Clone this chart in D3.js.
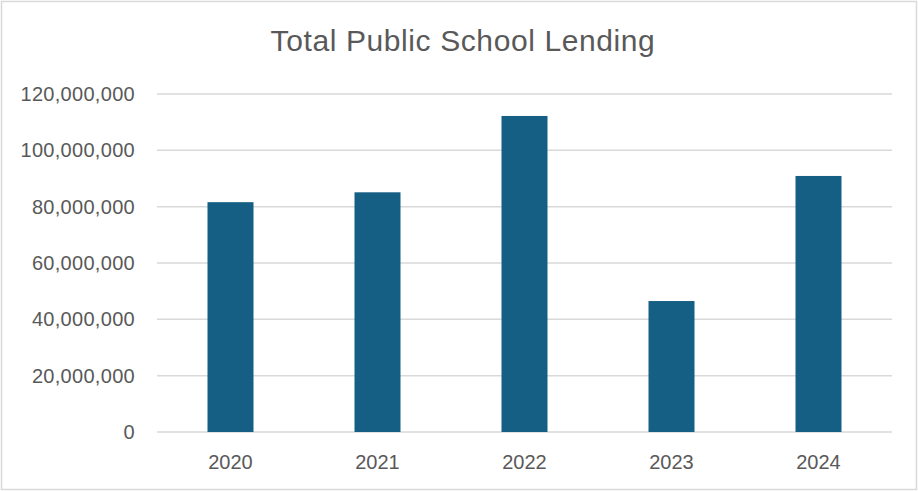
<!DOCTYPE html>
<html>
<head>
<meta charset="utf-8">
<script src="https://cdn.jsdelivr.net/npm/d3@7"></script>
<style>
  body { margin: 0; background: #fff; }
  text { font-family: "Liberation Sans", Arial, sans-serif; }
</style>
</head>
<body>
<div id="chart"></div>
<script>
// data
const years = ["2020", "2021", "2022", "2023", "2024"];
const lending = [81600000, 85100000, 112200000, 46500000, 90900000];
const yTicks = [0, 20000000, 40000000, 60000000, 80000000, 100000000, 120000000];
const title = "Total Public School Lending";

const W = 918, H = 491;
const margin = {top: 94, right: 26, bottom: 59, left: 157};
const width = W - margin.left - margin.right,
    height = H - margin.top - margin.bottom;

const root = d3.select("#chart")
  .append("svg")
  .attr("width", W)
  .attr("height", H);

// outer frame
root.append("rect")
  .attr("x", 1.5).attr("y", 1.5)
  .attr("width", W - 3).attr("height", H - 3)
  .attr("fill", "#fff")
  .attr("stroke", "#d9d9d9")
  .attr("stroke-width", 1.5);

root.append("text")
  .attr("x", 463)
  .attr("y", 51)
  .attr("text-anchor", "middle")
  .attr("fill", "#595959")
  .style("font-size", "30px")
  .style("letter-spacing", "0.6px")
  .text(title);

const svg = root.append("g")
  .attr("transform", `translate(${margin.left}, ${margin.top})`);

const x = d3.scaleBand()
  .domain(years)
  .range([0, width])
  .paddingInner(0.687)
  .paddingOuter(0.3435);

const y = d3.scaleLinear()
  .domain([0, 120000000])
  .range([height, 0]);

// gridlines
svg.append("g")
  .selectAll("line")
  .data(yTicks)
  .join("line")
  .attr("x1", 0)
  .attr("x2", width)
  .attr("y1", d => y(d))
  .attr("y2", d => y(d))
  .attr("stroke", "#d9d9d9")
  .attr("stroke-width", 1.5);

// y axis labels
const yAxis = svg.append("g")
  .call(d3.axisLeft(y).tickValues(yTicks).tickSize(0).tickPadding(22)
    .tickFormat(d3.format(",")));
yAxis.select(".domain").remove();
yAxis.selectAll("text")
  .attr("fill", "#595959")
  .style("font-size", "20px")
  .style("letter-spacing", "0.3px");

// bars
svg.append("g")
  .selectAll("rect")
  .data(lending)
  .join("rect")
  .attr("x", (d, i) => x(years[i]))
  .attr("y", d => y(d))
  .attr("width", x.bandwidth())
  .attr("height", d => height - y(d))
  .attr("fill", "#165f84");

// x axis labels
const xAxis = svg.append("g")
  .attr("transform", `translate(0, ${height})`)
  .call(d3.axisBottom(x).tickSize(0).tickPadding(23));
xAxis.select(".domain").remove();
xAxis.selectAll("text")
  .attr("fill", "#595959")
  .style("font-size", "20px");
</script>
</body>
</html>
